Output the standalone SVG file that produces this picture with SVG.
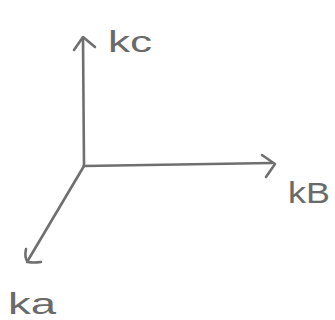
<svg xmlns="http://www.w3.org/2000/svg" width="335" height="320" viewBox="0 0 335 320">
<style>
.ax{fill:none;stroke:#6f6f6f;stroke-width:2.6;stroke-linecap:round;stroke-linejoin:round}
.lb{font-family:"Liberation Sans",sans-serif;fill:#6a6a6a;font-size:30px}
</style>
<rect width="335" height="320" fill="#ffffff"/>
<g id="connectors">
<path class="ax" d="M84,166 L83,38"/>
<path class="ax" d="M74,50 L83,37 L95,47"/>
<path class="ax" d="M84,166 L272,163"/>
<path class="ax" d="M262,155 L275,164 L266,177"/>
<path class="ax" d="M84,166 L27,262"/>
<path class="ax" d="M26,249 Q24,258 28,262 Q33,263 41,262"/>
</g>
<g id="kc"><text class="lb" x="108" y="52" textLength="44" lengthAdjust="spacingAndGlyphs">kc</text></g>
<g id="kB"><text class="lb" x="288" y="203" textLength="42" lengthAdjust="spacingAndGlyphs">kB</text></g>
<g id="ka"><text class="lb" x="8" y="314" textLength="48" lengthAdjust="spacingAndGlyphs">ka</text></g>
</svg>
